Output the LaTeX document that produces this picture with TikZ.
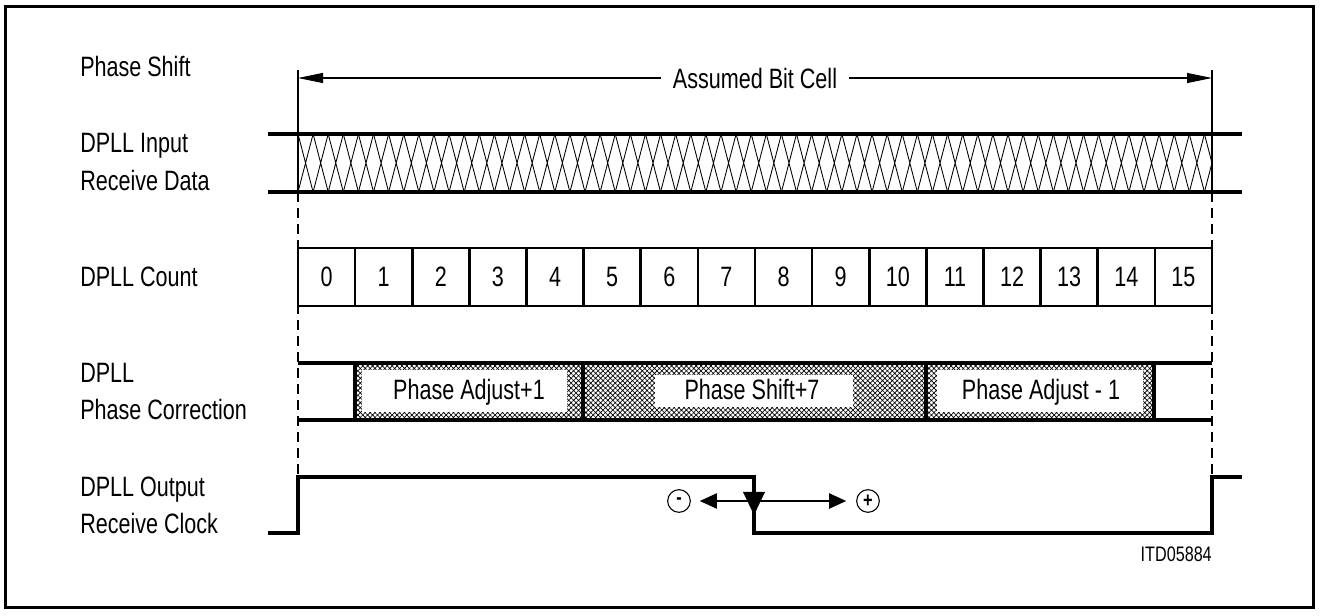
\documentclass[tikz,border=0pt]{standalone}
\usepackage{fontspec}
\setmainfont[FakeStretch=0.77]{Liberation Sans}
\usetikzlibrary{arrows.meta,patterns.meta}
\begin{document}
\begin{tikzpicture}[x=0.75pt,y=-0.75pt,
  every node/.style={inner sep=0pt},
  txt/.style={font=\fontsize{21}{25}\selectfont},
  lbl/.style={anchor=base west, txt},
  bus/.style={line width=2.8pt},
  wave/.style={line width=2.4pt},
  thinline/.style={line width=0.8pt},
  hline/.style={line width=0.65pt},
  guide/.style={line width=0.8pt, dash pattern=on 7.5pt off 4.5pt},
  cbox/.style={draw, line width=2pt, minimum width=42.84pt, minimum height=43.5pt, txt},
  bigarrow/.style={thinline, {Triangle[length=18.75pt,width=7.5pt]}-{Triangle[length=18.75pt,width=7.5pt]}},
  smallarrow/.style={thinline, -{Triangle[length=12.75pt,width=11.5pt]}},
  sign/.style={draw, circle, thinline, minimum size=17pt, font=\bfseries\fontsize{16}{16}\selectfont},
  xhatch/.style={pattern={Hatch[angle=45,distance=2.6pt,line width=0.5pt]}, pattern color=black},
]
\useasboundingbox (0,0) rectangle (1322,616);
% frame
\draw[line width=2.25pt] (5,7) rectangle (1313,608);

% left labels
\node[lbl] (lps) at (80,77) {Phase Shift};
\node[lbl] (lin1) at (80,153) {DPLL Input};
\node[lbl] (lin2) at (80,191) {Receive Data};
\node[lbl] (lcnt) at (80,287) {DPLL Count};
\node[lbl] (lpc1) at (80,383) {DPLL};
\node[lbl] (lpc2) at (80,420) {Phase Correction};
\node[lbl] (lout1) at (80,497) {DPLL Output};
\node[lbl] (lout2) at (80,534) {Receive Clock};

% guide lines
\coordinate (gLtop) at (298,70);
\coordinate (gLmid) at (298,192);
\coordinate (gLbot) at (298,477);
\coordinate (gRtop) at (1212,70);
\coordinate (gRmid) at (1212,192);
\coordinate (gRbot) at (1212,477);
\draw[thinline] (gLtop) -- (gLmid);
\draw[thinline] (gRtop) -- (gRmid);
\draw[guide] (gLmid) -- (gLbot);
\draw[guide] (gRmid) -- (gRbot);

% assumed bit cell arrow
\coordinate (aL) at (298,78);
\coordinate (aR) at (1212,78);
\draw[bigarrow] (aL) -- node[fill=white, inner xsep=9pt, inner ysep=2pt, txt] (abc) {Assumed Bit Cell} (aR);

% receive data bus
\begin{scope}
  \clip (298,134) rectangle (1212,192);
  \foreach \k in {0,...,61} {
    \draw[hline] ({298+\k*15.107},134) -- ({298+(\k+1)*15.107},192)
                 ({298+(\k+1)*15.107},134) -- ({298+\k*15.107},192);
  }
\end{scope}
\draw[bus] (268,134) -- (1242,134);
\draw[bus] (268,192) -- (1242,192);

% DPLL count
\foreach \i in {0,...,15} {
  \node[cbox] (c\i) at ({298+(\i+0.5)*57.125},277) {\i};
}

% phase correction
\fill[xhatch] (355,363) rectangle (583,420);
\fill[xhatch] (583,363) rectangle (926,420);
\fill[xhatch] (926,363) rectangle (1154,420);
\fill[white] (362,370) rectangle (567,412);
\fill[white] (655,375) rectangle (853,407);
\fill[white] (937,370) rectangle (1143,412);
\node[txt, anchor=base] (pa1) at (469,400) {Phase Adjust+1};
\node[txt, anchor=base] (ps7) at (752,400) {Phase Shift+7};
\node[txt, anchor=base] (pam1) at (1041,400) {Phase Adjust - 1};
\draw[wave] (298,363) -- (1212,363);
\draw[wave] (298,420) -- (1212,420);
\foreach \x in {355,583,926,1154} {
  \draw[wave] (\x,363) -- (\x,420);
}

% receive clock
\draw[wave] (268,533) -- (298,533) -- (298,477) -- (754,477) -- (754,533) -- (1212,533) -- (1212,477) -- (1242,477);
\fill (743,492) -- (765,492) -- (754,515) -- cycle;
\coordinate (mid) at (754,501);
\node[sign] (minus) at (679,501) {-};
\node[sign] (plus) at (868,501) {+};
\draw[smallarrow, shorten >=6.75pt] (mid) -- (minus);
\draw[smallarrow, shorten >=7.5pt] (mid) -- (plus);

\node[anchor=base east, font=\fontsize{15.75}{18}\selectfont] (itd) at (1212,562) {ITD05884};
\end{tikzpicture}
\end{document}
